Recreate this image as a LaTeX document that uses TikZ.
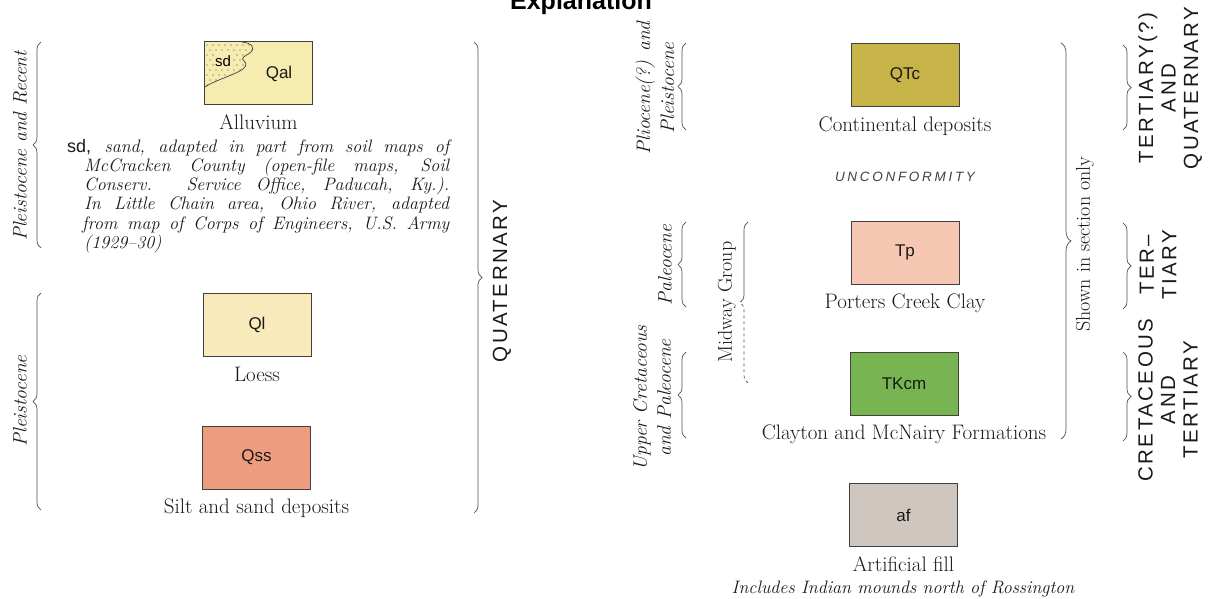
\documentclass[tikz,border=0pt]{standalone}
\usepackage{fontspec}
\setsansfont{Liberation Sans}
\usetikzlibrary{positioning, decorations.pathreplacing}
\definecolor{alcol}{RGB}{246,236,176}
\definecolor{lscol}{RGB}{248,234,186}
\definecolor{sscol}{RGB}{238,156,126}
\definecolor{tccol}{RGB}{198,180,72}
\definecolor{tpcol}{RGB}{246,200,180}
\definecolor{kmcol}{RGB}{120,180,82}
\definecolor{afcol}{RGB}{208,198,192}
\tikzset{
  unit/.style = {draw=black!75, line width=0.8pt, minimum width=108pt,
                 minimum height=63pt, inner sep=0pt,
                 font=\sffamily\fontsize{17}{17}\selectfont, text=black!90},
  capt/.style = {font=\fontsize{21}{21}\selectfont, text=black!90,
                 text height=15.5pt, text depth=4.5pt, inner sep=2pt},
  age/.style  = {rotate=90, align=center, text=black!90,
                 font=\itshape\fontsize{19.5}{24}\selectfont},
  sys/.style  = {rotate=90, align=center, text=black!90,
                 font=\sffamily\fontsize{20.5}{22.5}\selectfont\addfontfeatures{LetterSpace=12}},
  brc/.style  = {decorate, decoration={brace, amplitude=8pt}, draw=black!70,
                 line width=0.7pt},
  desc/.style = {align=left, inner sep=0pt, text=black!90,
                 font=\itshape\fontsize{18}{19.2}\selectfont\addfontfeatures{LetterSpace=8}},
}

\begin{document}
\begin{tikzpicture}[x=1pt, y=-1pt]
  \useasboundingbox (0,0) rectangle (1212,599);
  \node[anchor=base, font=\sffamily\bfseries\fontsize{25}{25}\selectfont]
    (ttl) at (581,10) {Explanation};

  % left column
  \node[unit, fill=alcol] (qal) at (258.5,73) {};
  \begin{scope}
    \clip (205,42) -- (242,42) .. controls (252,43) and (256,48) .. (250,53)
      .. controls (245,56) and (240,58) .. (244,61)
      .. controls (248,64) and (246,68) .. (238,72)
      .. controls (225,78) and (212,82) .. (205,87) -- cycle;
    \foreach \i in {0,...,8}
      \foreach \j in {0,...,8}
        \fill[black!70] ({207+6*\i+3*mod(\j,2)},{45+5*\j}) circle (0.7pt);
  \end{scope}
  \draw[black!75, line width=0.7pt] (242,42) .. controls (252,43) and (256,48) .. (250,53)
      .. controls (245,56) and (240,58) .. (244,61)
      .. controls (248,64) and (246,68) .. (238,72)
      .. controls (225,78) and (212,82) .. (205,87);
  \node[font=\sffamily\fontsize{15}{15}\selectfont, fill=alcol, inner sep=1pt]
    (sd) at (223,61) {sd};
  \node[font=\sffamily\fontsize{17}{17}\selectfont, text=black!90]
    (qalt) at (279,74) {Qal};
  \node[capt, below=6.5pt of qal] (qalc) {Alluvium};
  \node[desc, anchor=north west] (qaln) at (67,139) {%
    \makebox[382pt][s]{{\sffamily\upshape sd,} sand, adapted in part from soil maps of}\\
    \hspace*{17pt}\makebox[365pt][s]{McCracken County (open-file maps, Soil}\\
    \hspace*{17pt}\makebox[365pt][s]{Conserv. Service Office, Paducah, Ky.).}\\
    \hspace*{17pt}\makebox[365pt][s]{In Little Chain area, Ohio River, adapted}\\
    \hspace*{15pt}\makebox[367pt][s]{from map of Corps of Engineers, U.S. Army}\\
    \hspace*{17pt}(1929--30)};

  \node[unit, fill=lscol] (ql) at (257,325) {Ql};
  \node[capt, below=6.5pt of ql] (qlc) {Loess};
  \node[unit, fill=sscol] (qss) at (256.5,457.5) {Qss};
  \node[capt, below=6.5pt of qss] (qssc) {Silt and sand deposits};

  \node[age] (pr) at (20,146) {Pleistocene and Recent};
  \node[age] (pl) at (20,401) {Pleistocene};
  \coordinate (pr1) at (41,248); \coordinate (pr2) at (41,42);
  \coordinate (pl1) at (41,510); \coordinate (pl2) at (41,293);
  \draw[brc] (pr1) -- (pr2);
  \draw[brc] (pl1) -- (pl2);

  \coordinate (qu1) at (474,42); \coordinate (qu2) at (474,513);
  \draw[brc] (qu1) -- (qu2);
  \node[sys] (qu) at (502,281) {QUATERNARY};

  % right column
  \node[unit, fill=tccol] (qtc) at (905,75) {QTc};
  \node[capt, below=6.5pt of qtc] (qtcc) {Continental deposits};
  \node[font=\sffamily\itshape\fontsize{13.5}{13.5}\selectfont\addfontfeatures{LetterSpace=20},
        text=black!75] (unc) at (905,177) {UNCONFORMITY};
  \node[unit, fill=tpcol] (tp) at (905,252.5) {Tp};
  \node[capt, below=6.5pt of tp] (tpc) {Porters Creek Clay};
  \node[unit, fill=kmcol] (tkcm) at (904,383.5) {TKcm};
  \node[capt, below=6.5pt of tkcm] (tkcmc) {Clayton and McNairy Formations};
  \node[unit, fill=afcol] (af) at (903.5,515) {af};
  \node[capt, below=6.5pt of af] (afc) {Artificial fill};
  \node[font=\itshape\fontsize{18}{18}\selectfont\addfontfeatures{LetterSpace=8},
        text=black!90] (afn) at (903,589) {Includes Indian mounds north of Rossington};

  \node[age] (plp) at (655,88) {Pliocene(?) and\\Pleistocene};
  \node[age] (pal) at (665,265) {Paleocene};
  \node[age] (ucp) at (652,398) {Upper Cretaceous\\and Paleocene};
  \coordinate (plp1) at (686,130); \coordinate (plp2) at (686,43);
  \coordinate (pal1) at (686,307); \coordinate (pal2) at (686,222);
  \coordinate (ucp1) at (686,438); \coordinate (ucp2) at (686,352);
  \draw[brc] (plp1) -- (plp2);
  \draw[brc] (pal1) -- (pal2);
  \draw[brc] (ucp1) -- (ucp2);

  \node[rotate=90, font=\fontsize{20}{20}\selectfont, text=black!90]
    (mw) at (727,302) {Midway Group};
  \coordinate (mw1) at (748,383); \coordinate (mw2) at (748,222);
  \begin{scope}
    \clip (700,200) rectangle (770,301);
    \draw[brc] (mw1) -- (mw2);
  \end{scope}
  \begin{scope}
    \clip (700,301) rectangle (770,400);
    \draw[brc, dashed] (mw1) -- (mw2);
  \end{scope}

  \coordinate (sh1) at (1061,43); \coordinate (sh2) at (1061,439);
  \draw[brc, decoration={amplitude=10pt}] (sh1) -- (sh2);
  \node[rotate=90, font=\fontsize{20}{20}\selectfont, text=black!90]
    (sh) at (1085,244) {Shown in section only};

  \coordinate (tq1) at (1123,45);  \coordinate (tq2) at (1123,130);
  \coordinate (te1) at (1123,223); \coordinate (te2) at (1123,309);
  \coordinate (ct1) at (1123,352); \coordinate (ct2) at (1123,441);
  \draw[brc] (tq1) -- (tq2);
  \draw[brc] (te1) -- (te2);
  \draw[brc] (ct1) -- (ct2);
  \node[sys] (tq) at (1170,88) {TERTIARY(?)\\AND\\QUATERNARY};
  \node[sys] (te) at (1158,265) {TER--\\TIARY};
  \node[sys] (ct) at (1168,400) {CRETACEOUS\\AND\\TERTIARY};
\end{tikzpicture}
\end{document}
